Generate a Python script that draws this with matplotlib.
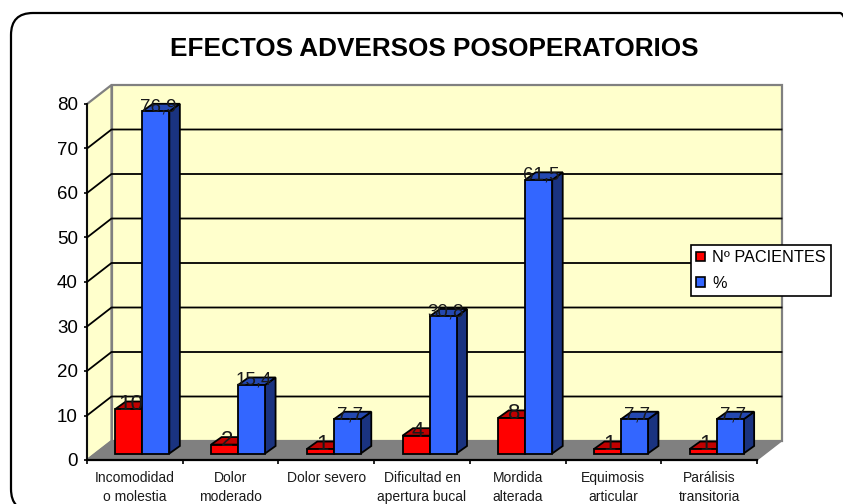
#!/usr/bin/env python

import matplotlib
matplotlib.use('Agg')
import matplotlib.pyplot as plt
from matplotlib.patches import FancyBboxPatch

plt.rcParams['font.family'] = ['Liberation Sans', 'DejaVu Sans']

categories = ['Incomodidad\no molestia', 'Dolor\nmoderado', 'Dolor severo', 'Dificultad en\napertura bucal',
              'Mordida\nalterada', 'Equimosis\narticular', 'Parálisis\ntransitoria']
pacientes = [10, 2, 1, 4, 8, 1, 1]
porcentaje = [76.9, 15.4, 7.7, 30.8, 61.5, 7.7, 7.7]
pac_labels = ['10', '2', '1', '4', '8', '1', '1']
por_labels = ['76,9', '15,4', '7,7', '30,8', '61,5', '7,7', '7,7']
yticks = [0, 10, 20, 30, 40, 50, 60, 70, 80]
title = 'EFECTOS ADVERSOS POSOPERATORIOS'
series_names = ['Nº PACIENTES', '%']

W, H = 843, 504
# front plane of the 3d box, in pixels
left, right, bottom, top = 87, 757, 460, 104

fig = plt.figure(figsize=(W/100, H/100), dpi=100)
ax = fig.add_axes([left/W, 1-bottom/H, (right-left)/W, (bottom-top)/H])
ax.set_xlim(0, 7)
ax.set_ylim(0, 80)
ax.patch.set_visible(False)
for s in ax.spines.values():
    s.set_visible(False)

# oblique depth of the box, in data units
px_x = 7/(right-left)
px_y = 80/(bottom-top)
dx = 24.5*px_x
dy = 19*px_y

wall = '#ffffcc'
grey = '#808080'
lw = 1.3

# walls and floor
ax.fill([dx, 7+dx, 7+dx, dx], [dy, dy, 80+dy, 80+dy], fc=wall, ec=grey, lw=1.6, clip_on=False, zorder=1)
ax.fill([0, dx, dx, 0], [0, dy, 80+dy, 80], fc=wall, ec=grey, lw=1.6, clip_on=False, zorder=1)
ax.fill([0, 7, 7+dx, dx], [0, 0, dy, dy], fc=grey, ec=grey, lw=1, clip_on=False, zorder=1)

# gridlines
for t in yticks[1:-1]:
    ax.plot([0, dx, 7+dx], [t, t+dy, t+dy], color='black', lw=lw, clip_on=False, zorder=2)
ax.plot([0, 0], [0, 80], color='black', lw=lw, clip_on=False, zorder=2)

off_x = 7.5*px_x
off_y = 6.5*px_y
bar_w = 27*px_x
bar_dx = 10.5*px_x
bar_dy = 7.5*px_y


def draw_bar(x0, v, front, topc, sidec):
    x1 = x0+bar_w
    y0 = off_y
    y1 = off_y+v
    ax.fill([x1, x1+bar_dx, x1+bar_dx, x1], [y0, y0+bar_dy, y1+bar_dy, y1], fc=sidec, ec='black', lw=lw, clip_on=False, zorder=3)
    ax.fill([x0, x1, x1+bar_dx, x0+bar_dx], [y1, y1, y1+bar_dy, y1+bar_dy], fc=topc, ec='black', lw=lw, clip_on=False, zorder=3)
    ax.bar(x0, v, width=bar_w, bottom=y0, align='edge', color=front, edgecolor='black', lw=lw, clip_on=False, zorder=3)


for i in range(len(categories)):
    c = i+0.5
    x_red = c-bar_w+off_x
    x_blue = c+off_x
    draw_bar(x_red, pacientes[i], '#ff0000', '#c00000', '#800000')
    draw_bar(x_blue, porcentaje[i], '#3366ff', '#2448b0', '#1a3380')
    ax.text(x_red+bar_w/2+2*px_x, off_y+pacientes[i]-1*px_y, pac_labels[i], ha='center', va='baseline',
            fontsize=16, color='#1a1a1a', zorder=5, clip_on=False)
    ax.text(x_blue+bar_w/2+2.5*px_x, off_y+porcentaje[i], por_labels[i], ha='center', va='baseline',
            fontsize=13.5, color='#1a1a1a', zorder=5, clip_on=False)

# axes ticks
ax.plot([0, 7], [0, 0], color='black', lw=1.6, clip_on=False, zorder=4)
ax.set_yticks(yticks)
ax.set_xticks(range(8))
ax.set_xticklabels([])
ax.tick_params(axis='y', length=2.5, width=1.2, labelsize=13.5, pad=4)
ax.tick_params(axis='x', length=3, width=1.2)
for i, name in enumerate(categories):
    ax.text(i+0.5, -2.4, name, ha='center', va='top', fontsize=10, linespacing=1.5, color='#1a1a1a', clip_on=False)

fig.text(434/W, 1-49/H, title, ha='center', va='center', fontsize=18.8, fontweight='bold')

# legend
h = [plt.Rectangle((0, 0), 1, 1, fc='#ff0000', ec='black', lw=1.2),
     plt.Rectangle((0, 0), 1, 1, fc='#3366ff', ec='black', lw=1.2)]
leg = fig.legend(h, series_names, loc='upper left', bbox_to_anchor=(691/W, 1-245/H), fontsize=11.7, frameon=True,
                 fancybox=False, edgecolor='black', framealpha=1, handlelength=0.55, handleheight=0.55,
                 handletextpad=0.43, labelspacing=0.65, borderpad=0.32, borderaxespad=0)
leg.get_frame().set_linewidth(1.2)

# rounded outer frame, runs off the right and bottom of the picture
r = 22
frame = FancyBboxPatch((11+r, H-511+r), 862-11-2*r, 511-13-2*r, boxstyle='round,pad=%d,rounding_size=%d' % (r, r),
                       transform=None, fc='none', ec='black', lw=1.6, zorder=6)
fig.add_artist(frame)

fig.savefig('out.png', dpi=100)
